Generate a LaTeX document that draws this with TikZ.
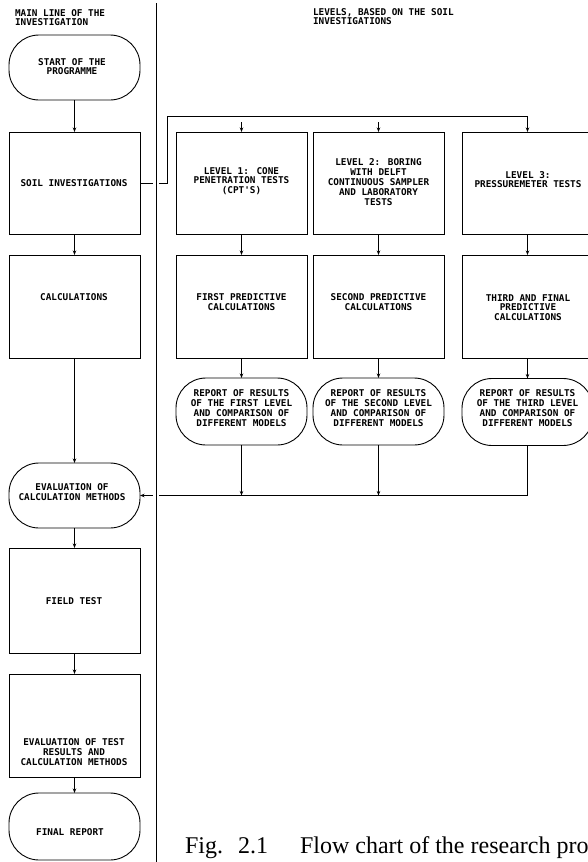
\documentclass[tikz,border=0pt]{standalone}
\usepackage{fontspec}
\newfontfamily\plotfont{DejaVu Sans Mono}[BoldFont={DejaVu Sans Mono Bold}]
\newfontfamily\capfont{Liberation Serif}
\usetikzlibrary{arrows.meta}
\begin{document}
\begin{tikzpicture}[x=1pt,y=-1pt,
  every node/.style={inner sep=0pt, outer sep=0pt},
  rectbox/.style={draw, line width=0.9pt, minimum width=131pt},
  stadbox/.style={rectbox, rounded corners=30pt},
  lbl/.style={font=\plotfont\bfseries\fontsize{9.35}{9.8}\selectfont, align=center},
  hdr/.style={font=\plotfont\bfseries\fontsize{9.35}{8.5}\selectfont, align=left, anchor=west},
  conn/.style={line width=0.9pt},
  arr/.style={conn, -{Stealth[length=4.5pt,width=3.5pt]}}]
\useasboundingbox (0,0) rectangle (588,862);

% headers
\node[hdr] (h1) at (15,17.5) {MAIN LINE OF THE\\INVESTIGATION};
\node[hdr] (h2) at (313,16.5) {LEVELS, BASED ON THE SOIL\\INVESTIGATIONS};

% main line
\node[stadbox, minimum height=65pt] (start) at (74.5,67.5) {};
\node[rectbox, minimum height=102pt] (soil) at (74.5,183) {};
\node[rectbox, minimum height=103pt] (calc) at (74.5,306.5) {};
\node[stadbox, minimum height=65pt] (evalc) at (74.5,495.5) {};
\node[rectbox, minimum height=105pt] (field) at (74.5,600.5) {};
\node[rectbox, minimum height=103pt] (evalt) at (74.5,725.5) {};
\node[stadbox, minimum height=67pt] (final) at (74.5,826.5) {};

\node[lbl] (tstart) at (72,66.5) {START OF THE\\PROGRAMME};
\node[lbl] (tsoil) at (74,183) {SOIL INVESTIGATIONS};
\node[lbl] (tcalc) at (74,297) {CALCULATIONS};
\node[lbl] (tevalc) at (72,492) {EVALUATION OF\\CALCULATION METHODS};
\node[lbl] (tfield) at (74,601) {FIELD TEST};
\node[lbl] (tevalt) at (74,752) {EVALUATION OF TEST\\RESULTS AND\\CALCULATION METHODS};
\node[lbl] (tfinal) at (70,832) {FINAL REPORT};

% levels
\node[rectbox, minimum height=102pt] (l1) at (241.5,183) {};
\node[rectbox, minimum height=102pt] (l2) at (378.5,183) {};
\node[rectbox, minimum height=102pt] (l3) at (527.5,183) {};
\node[rectbox, minimum height=103pt] (p1) at (241.5,306.5) {};
\node[rectbox, minimum height=103pt] (p2) at (378.5,306.5) {};
\node[rectbox, minimum height=103pt] (p3) at (527.5,306.5) {};
\node[stadbox, minimum height=67pt] (r1) at (241.5,411.5) {};
\node[stadbox, minimum height=67pt] (r2) at (378.5,411.5) {};
\node[stadbox, minimum height=67pt] (r3) at (527.5,412) {};

\node[lbl] (tl1) at (241.5,181) {LEVEL 1: CONE\\PENETRATION TESTS\\(CPT\textquotesingle S)};
\node[lbl] (tl2) at (378.5,182) {LEVEL 2: BORING\\WITH DELFT\\CONTINUOUS SAMPLER\\AND LABORATORY\\TESTS};
\node[lbl] (tl3) at (528,179.5) {LEVEL 3:\\PRESSUREMETER TESTS};
\node[lbl] (tp1) at (241.5,302) {FIRST PREDICTIVE\\CALCULATIONS};
\node[lbl] (tp2) at (378.5,302) {SECOND PREDICTIVE\\CALCULATIONS};
\node[lbl] (tp3) at (528,307.5) {THIRD AND FINAL\\PREDICTIVE\\CALCULATIONS};
\node[lbl] (tr1) at (241.5,408) {REPORT OF RESULTS\\OF THE FIRST LEVEL\\AND COMPARISON OF\\DIFFERENT MODELS};
\node[lbl] (tr2) at (378.5,408) {REPORT OF RESULTS\\OF THE SECOND LEVEL\\AND COMPARISON OF\\DIFFERENT MODELS};
\node[lbl] (tr3) at (527.5,408) {REPORT OF RESULTS\\OF THE THIRD LEVEL\\AND COMPARISON OF\\DIFFERENT MODELS};

% main line connectors
\draw[arr] (start) -- (soil);
\draw[arr] (soil) -- (calc);
\draw[arr] (calc) -- (evalc);
\draw[arr] (evalc) -- (field);
\draw[arr] (field) -- (evalt);
\draw[arr] (evalt) -- (final);

% top distribution
\coordinate (bt) at (167,116);
\draw[arr] (soil.east) -| (bt) -| (l3.north);
\draw[arr] ([yshift=10pt]l1.north) -- (l1.north);
\draw[arr] ([yshift=10pt]l2.north) -- (l2.north);

% columns
\draw[arr] (l1) -- (p1);
\draw[arr] (l2) -- (p2);
\draw[arr] (l3) -- (p3);
\draw[arr] (p1) -- (r1);
\draw[arr] (p2) -- (r2);
\draw[arr] (p3) -- (r3);

% bottom collection
\draw[arr] (r3.south) |- (evalc.east);
\draw[arr] (r1.south) -- (r1.south |- evalc.east);
\draw[arr] (r2.south) -- (r2.south |- evalc.east);

% divider
\draw[conn, preaction={draw=white, line width=6pt}] (156,3) -- (156,862);

% caption
\node[anchor=base west, font=\capfont\fontsize{24}{28}\selectfont] (cap) at (185,853)
  {Fig.\hspace{15pt}2.1\hspace{32pt}Flow chart of the research pro};
\end{tikzpicture}
\end{document}
